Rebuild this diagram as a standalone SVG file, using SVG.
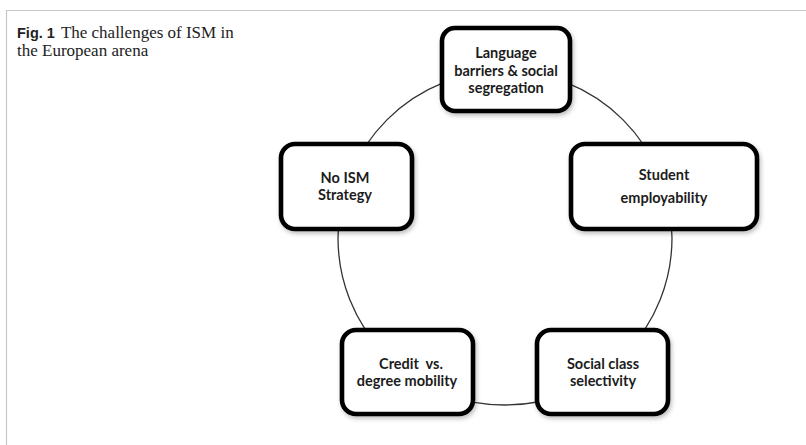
<svg xmlns="http://www.w3.org/2000/svg" width="806" height="445" viewBox="0 0 806 445">
  <defs>
    <filter id="sh" x="-10%" y="-10%" width="125%" height="130%">
      <feDropShadow dx="1.5" dy="2.5" stdDeviation="2" flood-color="#000" flood-opacity="0.25"/>
    </filter>
  </defs>
  <style>
    .box { fill: #fff; stroke: #000; stroke-width: 4.6; filter: url(#sh); }
    .lbl { font-family: Lato, "Liberation Sans", sans-serif; font-weight: bold; font-size: 14.5px; fill: #1c1c1c; text-anchor: middle; }
    .cap { font-family: "Liberation Serif", serif; font-size: 17px; fill: #222; }
    .capb { font-family: "Liberation Sans", sans-serif; font-weight: bold; font-size: 14.5px; fill: #222; }
    .conn { fill: none; stroke: #333; stroke-width: 1.3; }
  </style>
  <rect width="806" height="445" fill="#fff"/>
  <path d="M6.5,445 V10.5 H806" fill="none" stroke="#c8c8c8" stroke-width="1.2"/>
  <g id="caption">
    <text x="17" y="38"><tspan class="capb">Fig. 1</tspan><tspan class="cap" dx="6">The challenges of ISM in</tspan></text>
    <text class="cap" x="17" y="56">the European arena</text>
  </g>
  <g id="connectors">
    <circle class="conn" cx="505" cy="238" r="167"/>
  </g>
  <g id="language">
    <rect class="box" x="442" y="28" width="128" height="83" rx="13"/>
    <text class="lbl" x="506" y="58">Language</text>
    <text class="lbl" x="506" y="76">barriers &amp; social</text>
    <text class="lbl" x="506" y="93">segregation</text>
  </g>
  <g id="employability">
    <rect class="box" x="571" y="144" width="186" height="85" rx="14"/>
    <text class="lbl" x="664" y="180">Student</text>
    <text class="lbl" x="664" y="203">employability</text>
  </g>
  <g id="noism">
    <rect class="box" x="281" y="144" width="131" height="85" rx="14"/>
    <text class="lbl" x="345" y="183">No ISM</text>
    <text class="lbl" x="345" y="200">Strategy</text>
  </g>
  <g id="credit">
    <rect class="box" x="342" y="330" width="131" height="84" rx="14"/>
    <text class="lbl" x="411" y="369" xml:space="preserve">Credit  vs.</text>
    <text class="lbl" x="407" y="386">degree mobility</text>
  </g>
  <g id="social">
    <rect class="box" x="537" y="330" width="131" height="84" rx="14"/>
    <text class="lbl" x="603" y="369">Social class</text>
    <text class="lbl" x="603" y="386">selectivity</text>
  </g>
</svg>
